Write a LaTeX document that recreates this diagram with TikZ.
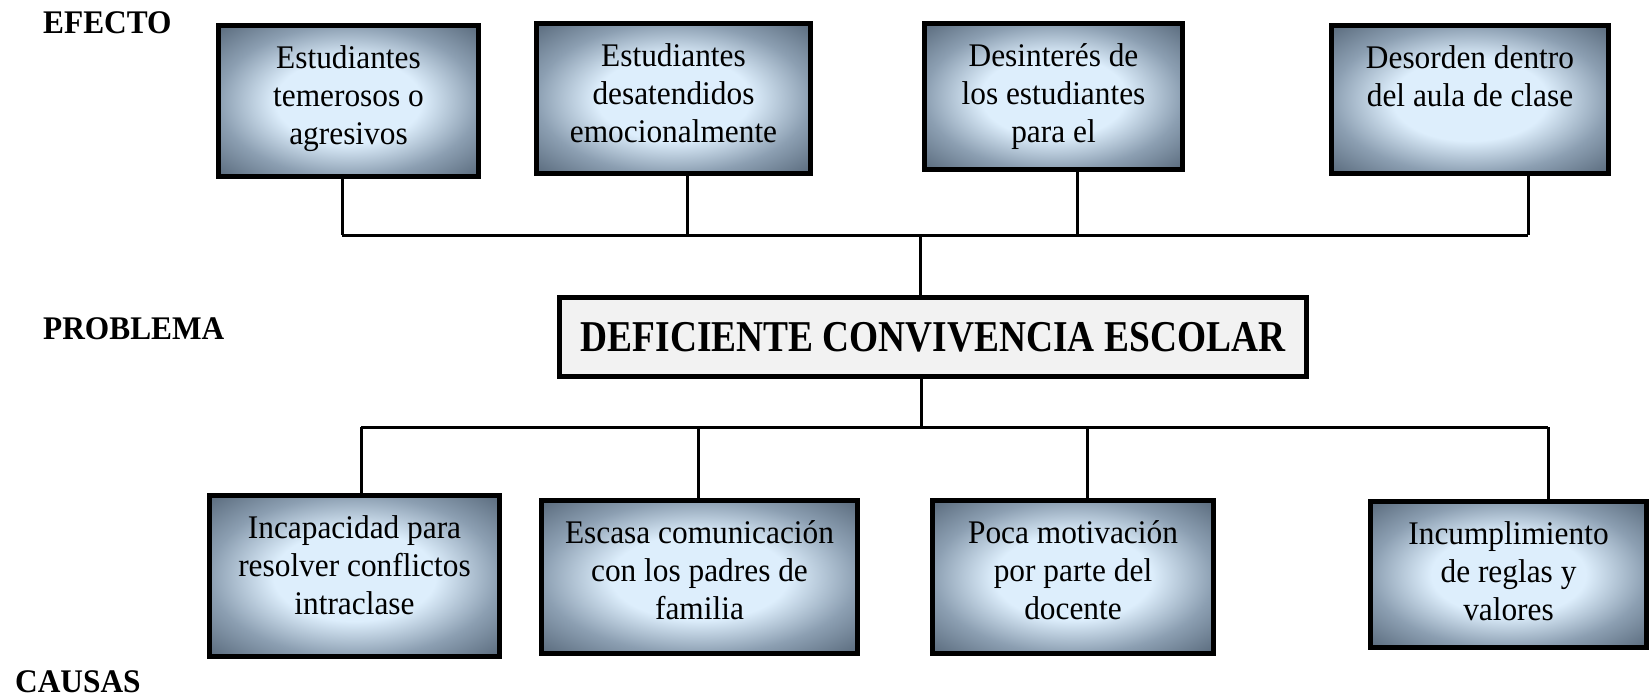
\documentclass[tikz,border=0pt]{standalone}
\usepackage{fontspec}
\setmainfont{Liberation Serif}[FakeStretch=0.95]
\newfontfamily\angosta{Liberation Serif}[FakeStretch=0.85]
\definecolor{luz}{HTML}{DDEEFC}
\definecolor{medio}{HTML}{8C9FB2}
\definecolor{oscuro}{HTML}{566779}
\definecolor{gris}{HTML}{F2F2F2}
\pgfdeclareradialshading{cajas}{\pgfpoint{0bp}{0bp}}{color(0bp)=(luz); color(14bp)=(luz); color(25bp)=(medio); color(36bp)=(oscuro); color(50bp)=(oscuro)}
\newcommand\texto[3]{\parbox[c][#2pt][t]{#1pt}{\centering #3}}

\begin{document}
\begin{tikzpicture}[x=1pt, y=-1pt,
    caja/.style={draw, line width=5pt, shading=cajas, inner sep=0pt, font=\fontsize{33}{38}\selectfont},
    problema/.style={draw, line width=5pt, fill=gris, inner sep=0pt, font=\angosta\bfseries\fontsize{44}{50}\selectfont},
    etiqueta/.style={anchor=west, inner sep=0pt, font=\bfseries\fontsize{33}{38}\selectfont},
    linea/.style={line width=3pt}]
    \useasboundingbox (0,0) rectangle (1651,698);
    % \draw[red] (0,0) rectangle (1651,698); % page frame
\node[etiqueta] (efecto) at (43,23) {EFECTO};
\node[etiqueta] (lblproblema) at (43,329) {PROBLEMA};
\node[etiqueta] (causas) at (15,682) {CAUSAS};
% efectos
\node[caja, minimum width=260, minimum height=151] (t1) at (348.5,101)
    {\texto{250}{111}{Estudiantes\\temerosos o\\agresivos}};
\node[caja, minimum width=274, minimum height=150] (t2) at (673.5,98.5)
    {\texto{264}{110}{Estudiantes\\desatendidos\\emocionalmente}};
\node[caja, minimum width=258, minimum height=146] (t3) at (1053.5,96.5)
    {\texto{248}{106}{Desinterés de\\los estudiantes\\para el}};
\node[caja, minimum width=277, minimum height=148] (t4) at (1470,99.5)
    {\texto{267}{108}{Desorden dentro\\del aula de clase}};
% problema
\node[problema, minimum width=747, minimum height=79] (prob) at (933,337)
    {DEFICIENTE CONVIVENCIA ESCOLAR};
% causas
\node[caja, minimum width=290, minimum height=161] (b1) at (354.5,576)
    {\texto{280}{121}{Incapacidad para\\resolver conflictos\\intraclase}};
\node[caja, minimum width=316, minimum height=153] (b2) at (699.5,577)
    {\texto{306}{113}{Escasa comunicación\\con los padres de\\familia}};
\node[caja, minimum width=281, minimum height=153] (b3) at (1073,577)
    {\texto{271}{113}{Poca motivación\\por parte del\\docente}};
\node[caja, minimum width=276, minimum height=146] (b4) at (1508.5,574.5)
    {\texto{266}{106}{Incumplimiento\\de reglas y\\valores}};
% lineas de arriba
\foreach \n/\x in {1/342, 2/687, 3/1077, 4/1528}
    \draw[linea] (t\n.south -| \x,0) -- (\x,235);
\draw[linea] (342,235) -- (1528,235);
\draw[linea] (920,235) -- (prob.north -| 920,0);
% lineas de abajo
\draw[linea] (prob.south -| 921,0) -- (921,427);
\draw[linea] (361,427) -- (1548,427);
\foreach \n/\x in {1/361, 2/698, 3/1087, 4/1548}
    \draw[linea] (\x,427) -- (b\n.north -| \x,0);
\end{tikzpicture}
\end{document}
